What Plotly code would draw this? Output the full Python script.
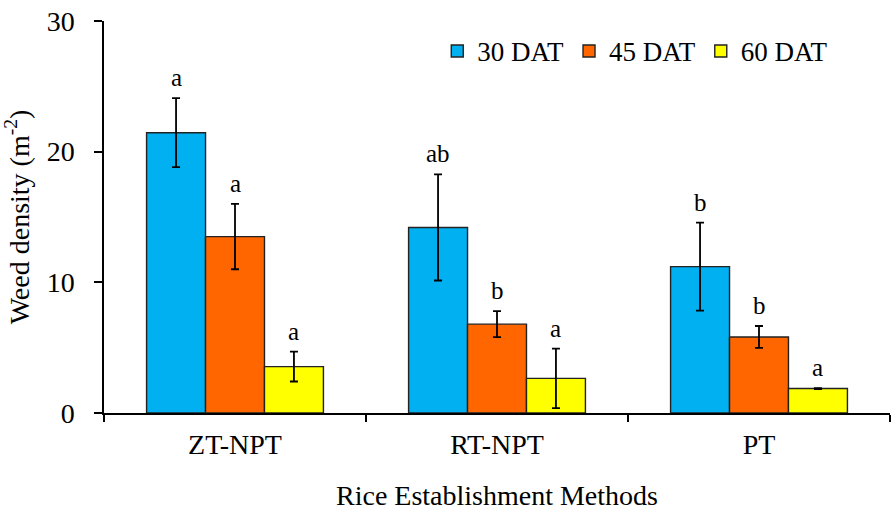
import plotly.graph_objects as go

categories = ["ZT-NPT", "RT-NPT", "PT"]
series_names = ["30 DAT", "45 DAT", "60 DAT"]
v30 = [21.45, 14.2, 11.2]
e30 = [2.64, 4.06, 3.37]
v45 = [13.5, 6.8, 5.82]
e45 = [2.5, 0.99, 0.84]
v60 = [3.55, 2.65, 1.87]
e60 = [1.14, 2.28, 0.04]
letters30 = ["a", "ab", "b"]
letters45 = ["a", "b", "b"]
letters60 = ["a", "a", "a"]
colors = ["#00B0F0", "#FF6600", "#FFFF00"]
y_ticks = [0, 10, 20, 30]

FONT = "Liberation Serif"
values = [v30, v45, v60]
errors = [e30, e45, e60]
letters = [letters30, letters45, letters60]

bargap = 0.325
fig = go.Figure()
for name, v, e, c in zip(series_names, values, errors, colors):
    fig.add_trace(go.Bar(
        x=categories, y=v, name=name,
        marker=dict(color=c, line=dict(color="#222222", width=1.4)),
        error_y=dict(type="data", array=e, visible=True, color="black",
                     thickness=1.8, width=4),
    ))

bw = (1 - bargap) / 3
annotations = []
for j, (v, e, L) in enumerate(zip(values, errors, letters)):
    for i in range(len(categories)):
        annotations.append(dict(
            x=i + (j - 1) * bw, y=v[i] + e[i], xref="x", yref="y",
            text=L[i], showarrow=False, yanchor="bottom", yshift=5,
            font=dict(family=FONT, size=25, color="black"),
        ))

fig.update_layout(
    width=892, height=518,
    margin=dict(l=104, r=2, t=21, b=105),
    paper_bgcolor="white", plot_bgcolor="white",
    barmode="group", bargap=bargap, bargroupgap=0,
    font=dict(family=FONT, size=26, color="black"),
    showlegend=True,
    legend=dict(orientation="h", x=0.424, y=0.985, xanchor="left", yanchor="top",
                font=dict(family=FONT, size=27, color="black"),
                bgcolor="rgba(0,0,0,0)", itemwidth=30, traceorder="normal"),
    annotations=annotations,
)
fig.update_xaxes(
    type="category", automargin=False, showline=True, linecolor="black", linewidth=1.5,
    ticks="outside", tickson="boundaries", ticklen=7, tickwidth=1.5, tickcolor="black",
    tickfont=dict(family=FONT, size=28, color="black"), ticklabelstandoff=6,
    title=dict(text="Rice Establishment Methods", font=dict(family=FONT, size=28, color="black"), standoff=26),
    showgrid=False, zeroline=False, range=[-0.5, 2.5],
)
fig.update_yaxes(
    range=[0, 30], tickvals=y_ticks, automargin=False, showline=True, linecolor="black", linewidth=1.5,
    ticks="outside", ticklen=8, tickwidth=1.5, tickcolor="black", ticklabeloverflow="allow",
    tickfont=dict(family=FONT, size=28, color="black"), ticklabelstandoff=14,
    title=dict(text="Weed density (m<sup>-2</sup>)", font=dict(family=FONT, size=28, color="black"), standoff=10),
    showgrid=False, zeroline=False,
)
# remove the browser's default 8px body margin so the figure fills the window exactly
fig.write_html("out.html", config={"displayModeBar": False},
               post_script="document.body.style.margin='0';")
